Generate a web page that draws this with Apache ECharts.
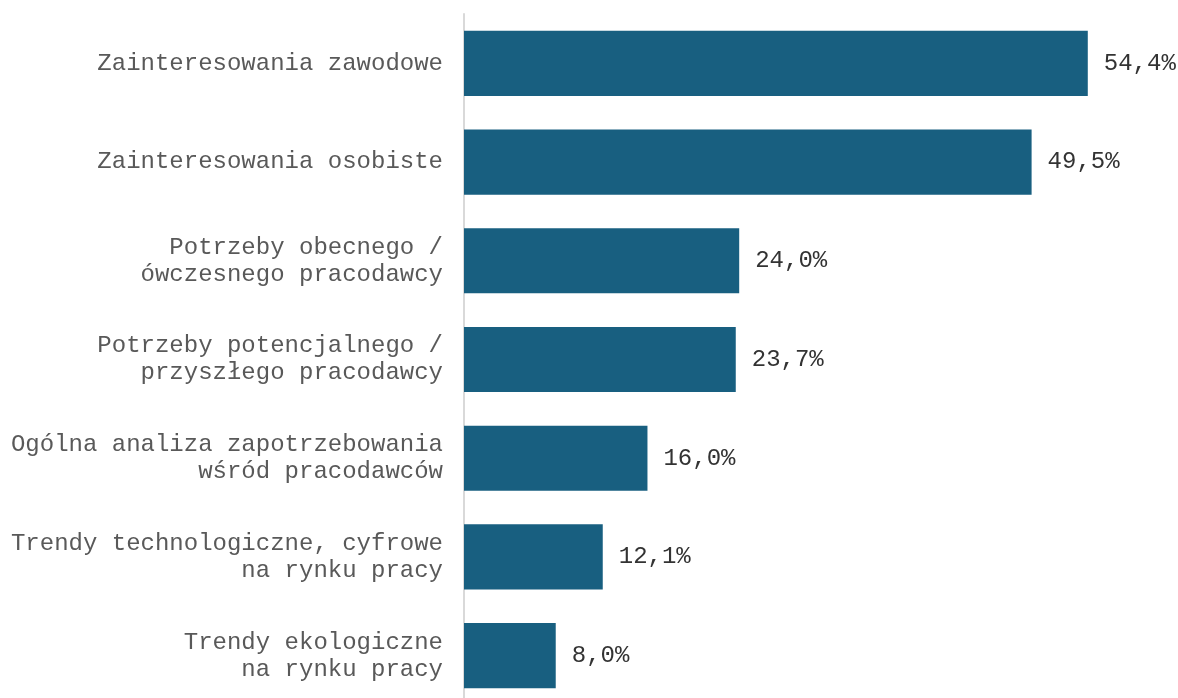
<!DOCTYPE html>
<html>
<head>
<meta charset="utf-8">
<script src="https://cdn.jsdelivr.net/npm/echarts@6/dist/echarts.min.js"></script>
<style>
html,body{margin:0;padding:0;background:#fff;}
#chart{width:1178px;height:698px;}
</style>
</head>
<body>
<div id="chart"></div>
<script>
const categories = [
  "Zainteresowania zawodowe",
  "Zainteresowania osobiste",
  "Potrzeby obecnego /\nówczesnego pracodawcy",
  "Potrzeby potencjalnego /\nprzyszłego pracodawcy",
  "Ogólna analiza zapotrzebowania\nwśród pracodawców",
  "Trendy technologiczne, cyfrowe\nna rynku pracy",
  "Trendy ekologiczne\nna rynku pracy"
];
const values = [54.4, 49.5, 24.0, 23.7, 16.0, 12.1, 8.0];

const chart = echarts.init(document.getElementById('chart'), null, {renderer: 'canvas'});
chart.setOption({
  animation: false,
  backgroundColor: '#ffffff',
  grid: {left: 464, right: 26, top: 14, height: 691, containLabel: false, outerBoundsMode: 'none'},
  xAxis: {
    type: 'value', min: 0, max: 60, show: false
  },
  yAxis: {
    type: 'category',
    data: categories,
    inverse: true,
    axisLine: {show: true, lineStyle: {color: '#d9d9d9', width: 2}},
    axisTick: {show: false},
    axisLabel: {
      margin: 21,
      color: '#595959',
      fontFamily: '"Liberation Mono", "Courier New", monospace',
      fontSize: 24,
      lineHeight: 27,
      align: 'right'
    }
  },
  series: [{
    type: 'bar',
    data: values,
    barWidth: '66%',
    itemStyle: {color: '#185f80'},
    label: {
      show: true,
      position: 'right',
      distance: 16,
      color: '#333333',
      fontFamily: '"Liberation Mono", "Courier New", monospace',
      fontSize: 24,
      formatter: p => p.value.toFixed(1).replace('.', ',') + '%'
    }
  }]
});
</script>
</body>
</html>
